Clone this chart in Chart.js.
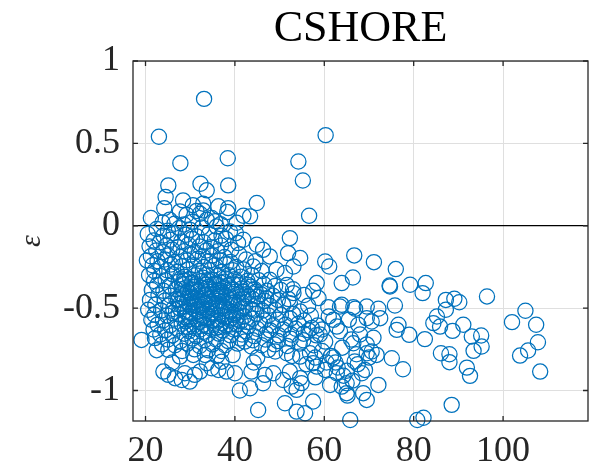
<!DOCTYPE html>
<html>
<head>
<meta charset="utf-8">
<script src="https://cdn.jsdelivr.net/npm/chart.js@4.4.1/dist/chart.umd.min.js"></script>
<style>
html,body{margin:0;padding:0;background:#fff;}
#wrap{width:603px;height:476px;}
</style>
</head>
<body>
<div id="wrap"><canvas id="c" width="603" height="476"></canvas></div>
<script>
const chartTitle = 'CSHORE';
const yAxisLabel = 'ε';
const xTicks = [20, 40, 60, 80, 100];
const yTicks = [-1, -0.5, 0, 0.5, 1];
const xRange = [17.2, 119];
const yRange = [-1.185, 1];

const upperPoints = [
[33.1,0.77],[23.0,0.54],[60.3,0.55],[27.8,0.38],[38.4,0.41],[54.2,0.39],[55.2,0.275],
[25.1,0.245],[32.3,0.255],[33.7,0.215],[38.5,0.245],[44.9,0.138],[24.5,0.174],[28.4,0.154],
[24.2,0.107],[32.9,0.134],[32.9,0.093],[38.5,0.107],[38.3,0.083],[41.9,0.061],[21.2,0.047],
[27.7,0.087],[32.2,0.073],[34.8,0.047],[25.4,0.036],[40.4,0.018],[56.6,0.061],[43.4,0.057],
[29.2,0.067],[31.4,0.09],[33.7,0.036],[35.6,0.028],[23.8,0.02],[26.5,0.012],[28.6,0.008],
[30.5,0.025],[36.8,0.01],[30.6,0.125],[36.3,0.118]
];

const nearZeroPoints = [
[22.5,-0.02],[25.0,-0.03],[27.5,-0.015],[30.0,-0.025],[32.6,-0.01],[35.9,-0.005],[38.9,-0.035],
[20.5,-0.05],[24.0,-0.06],[26.3,-0.045],[29.0,-0.055],[31.5,-0.065],[34.2,-0.05],[37.0,-0.06],[40.2,-0.045],[52.3,-0.075],
[21.8,-0.09],[23.2,-0.1],[25.6,-0.085],[28.0,-0.095],[30.4,-0.08],[33.0,-0.1],[35.5,-0.09],[38.0,-0.08],[41.9,-0.085],
[20.9,-0.125],[24.6,-0.12],[27.2,-0.13],[29.6,-0.115],[32.1,-0.125],[34.6,-0.13],[36.9,-0.12],[40.7,-0.105],[44.9,-0.115],
[22.4,-0.15],[23.9,-0.16],[26.0,-0.145],[28.6,-0.155],[31.0,-0.16],[33.6,-0.15],[36.1,-0.155],[39.2,-0.145],[46.3,-0.146],[51.9,-0.166],
[21.2,-0.185],[25.0,-0.18],[27.8,-0.19],[30.2,-0.175],[32.8,-0.185],[35.0,-0.18],[37.7,-0.19],[41.0,-0.175],[47.8,-0.186]
];

const midPoints = [
[20.3,-0.21],[22.7,-0.215],[24.3,-0.205],[26.6,-0.22],[29.3,-0.21],[31.7,-0.2],[34.2,-0.215],[36.6,-0.21],[39.0,-0.22],[42.5,-0.205],[44.6,-0.215],
[21.6,-0.24],[23.5,-0.25],[25.7,-0.235],[28.2,-0.245],[30.8,-0.24],[33.1,-0.25],[35.6,-0.24],[38.0,-0.235],[40.3,-0.25],[44.1,-0.247],[53.1,-0.247],
[22.0,-0.275],[24.8,-0.27],[27.0,-0.28],[29.5,-0.265],[32.0,-0.275],[34.5,-0.27],[37.0,-0.28],[39.5,-0.27],[42.0,-0.265],[46.0,-0.275],[49.3,-0.267],[51.2,-0.287],
[20.8,-0.3],[23.3,-0.305],[26.1,-0.295],[28.7,-0.31],[31.2,-0.3],[33.7,-0.295],[36.2,-0.305],[38.6,-0.3],[41.3,-0.31],[43.8,-0.3],
[21.9,-0.335],[24.5,-0.33],[27.4,-0.34],[30.0,-0.325],[32.6,-0.335],[35.1,-0.33],[37.6,-0.34],[40.0,-0.325],[42.8,-0.335],[45.3,-0.33],[47.8,-0.328],
[22.6,-0.36],[25.4,-0.365],[28.2,-0.355],[30.9,-0.37],[33.4,-0.36],[35.9,-0.355],[38.4,-0.365],[40.9,-0.36],[43.5,-0.37],[46.5,-0.355],[49.0,-0.365],[51.6,-0.36]
];

const corePoints = [
[21.4,-0.39],[24.0,-0.395],[26.8,-0.385],[29.4,-0.4],[31.8,-0.39],[34.3,-0.385],[36.8,-0.395],[39.3,-0.39],[41.8,-0.4],[44.4,-0.385],[47.2,-0.395],[50.3,-0.39],[53.0,-0.385],[57.5,-0.395],
[22.9,-0.42],[25.6,-0.425],[28.0,-0.415],[30.5,-0.43],[33.0,-0.42],[35.5,-0.415],[38.0,-0.425],[40.5,-0.42],[43.0,-0.43],[45.8,-0.415],[48.5,-0.425],[53.1,-0.409],[55.5,-0.42],
[21.0,-0.45],[24.3,-0.455],[26.9,-0.445],[29.2,-0.46],[31.6,-0.45],[34.0,-0.445],[36.4,-0.455],[38.9,-0.45],[41.4,-0.46],[44.0,-0.445],[46.6,-0.455],[49.6,-0.45],[52.0,-0.445],[58.7,-0.439],
[22.2,-0.48],[25.1,-0.485],[27.7,-0.475],[30.1,-0.49],[32.5,-0.48],[34.9,-0.475],[37.3,-0.485],[39.8,-0.48],[42.3,-0.49],[45.0,-0.475],[47.8,-0.485],[50.8,-0.48],[52.3,-0.47],[56.4,-0.485],
[20.6,-0.51],[23.5,-0.515],[26.2,-0.505],[28.8,-0.52],[31.2,-0.51],[33.6,-0.505],[36.0,-0.515],[38.5,-0.51],[41.0,-0.52],[43.5,-0.505],[46.2,-0.515],[49.0,-0.51],[54.6,-0.521],[60.9,-0.494],
[22.0,-0.54],[24.8,-0.545],[27.4,-0.535],[29.9,-0.55],[32.3,-0.54],[34.7,-0.535],[37.1,-0.545],[39.6,-0.54],[42.1,-0.55],[44.8,-0.535],[47.5,-0.545],[50.3,-0.54],[53.0,-0.535],[57.0,-0.545],
[21.3,-0.57],[23.9,-0.575],[26.5,-0.565],[29.0,-0.58],[31.4,-0.57],[33.8,-0.565],[36.3,-0.575],[38.8,-0.57],[41.3,-0.58],[43.9,-0.565],[46.6,-0.575],[49.5,-0.57],[52.4,-0.565],[55.5,-0.575],[62.0,-0.571],
[22.7,-0.6],[25.5,-0.605],[28.1,-0.595],[30.6,-0.61],[33.0,-0.6],[35.5,-0.595],[38.0,-0.605],[40.5,-0.6],[43.0,-0.61],[45.7,-0.595],[48.5,-0.605],[51.3,-0.6],[54.2,-0.595],[58.5,-0.605],[62.8,-0.612],
[21.8,-0.63],[24.4,-0.635],[27.0,-0.625],[29.7,-0.64],[32.2,-0.63],[34.7,-0.625],[37.2,-0.635],[39.7,-0.63],[42.4,-0.64],[45.0,-0.625],[47.9,-0.635],[50.8,-0.63],[53.6,-0.625],[56.5,-0.635],[59.5,-0.63],
[23.3,-0.66],[26.0,-0.665],[28.7,-0.655],[31.3,-0.67],[33.9,-0.66],[36.4,-0.655],[39.0,-0.665],[41.6,-0.66],[44.3,-0.67],[47.0,-0.655],[49.8,-0.665],[52.6,-0.66],[55.4,-0.655],[58.2,-0.665]
];

const extraCorePoints = [
[27.9,-0.32],[30.4,-0.345],[32.9,-0.315],[35.4,-0.35],[37.9,-0.32],[29.1,-0.375],[31.6,-0.4],[34.1,-0.37],[36.6,-0.41],[39.1,-0.38],
[28.4,-0.435],[30.9,-0.465],[33.4,-0.435],[35.9,-0.47],[38.4,-0.44],[40.9,-0.47],[27.6,-0.5],[30.1,-0.53],[32.6,-0.495],[35.1,-0.525],
[37.6,-0.5],[40.1,-0.53],[28.9,-0.555],[31.9,-0.585],[34.4,-0.555],[36.9,-0.59],[39.4,-0.56],[29.5,-0.615],[32.8,-0.645],[35.8,-0.62],
[31.0,-0.44],[33.2,-0.47],[36.0,-0.43],[34.8,-0.5],[32.0,-0.52],[37.2,-0.46],[29.8,-0.48],[33.5,-0.38],[36.2,-0.39],[30.6,-0.39],
[28.7,-0.33],[31.3,-0.355],[33.9,-0.33],[36.8,-0.345],[39.6,-0.35],[41.5,-0.38],[43.0,-0.36],
[28.1,-0.385],[30.0,-0.41],[32.4,-0.375],[35.0,-0.4],[37.5,-0.375],[40.2,-0.4],[42.6,-0.415],[44.7,-0.4],
[29.6,-0.445],[32.1,-0.455],[34.6,-0.46],[37.0,-0.42],[39.5,-0.465],[42.0,-0.44],[45.0,-0.43],[47.0,-0.44],
[28.6,-0.49],[31.3,-0.485],[33.8,-0.515],[36.3,-0.49],[38.9,-0.52],[41.5,-0.5],[44.0,-0.51],
[30.0,-0.565],[32.8,-0.56],[35.3,-0.575],[37.8,-0.555],[40.3,-0.565],[42.8,-0.585],
[31.0,-0.62],[33.6,-0.61],[36.6,-0.615],[39.0,-0.6],[27.3,-0.45],[26.0,-0.53]
];

const lowerPoints = [
[19.1,-0.693],[22.1,-0.682],[25.0,-0.69],[27.8,-0.7],[30.5,-0.685],[33.2,-0.695],[35.8,-0.69],[38.5,-0.7],[41.2,-0.685],[44.0,-0.695],[46.8,-0.69],[49.6,-0.7],[52.5,-0.685],[55.3,-0.695],[60.2,-0.703],
[23.7,-0.72],[26.6,-0.725],[29.4,-0.715],[32.1,-0.73],[35.0,-0.72],[37.8,-0.725],[40.6,-0.715],[46.0,-0.725],[48.9,-0.72],[51.7,-0.73],[54.5,-0.715],[57.6,-0.725],[66.5,-0.713],
[22.5,-0.755],[25.1,-0.753],[28.2,-0.76],[31.0,-0.75],[34.0,-0.755],[37.0,-0.76],[42.2,-0.703],[43.7,-0.733],[47.5,-0.753],[49.0,-0.763],[51.6,-0.774],[54.6,-0.794],[56.8,-0.774],[59.5,-0.76],
[27.7,-0.794],[30.7,-0.784],[33.3,-0.784],[36.0,-0.79],[39.5,-0.785],[45.0,-0.8],[52.8,-0.79],[58.0,-0.8],[61.5,-0.79],
[26.0,-0.83],[33.7,-0.834],[37.0,-0.825],[44.2,-0.83],[57.5,-0.834],[62.5,-0.83],[66.8,-0.824],
[24.0,-0.885],[25.1,-0.905],[26.6,-0.925],[28.1,-0.936],[28.8,-0.895],[29.9,-0.946],[31.0,-0.905],[32.2,-0.885],[34.8,-0.865],[36.3,-0.875],[38.1,-0.885],[40.0,-0.895],
[43.7,-0.885],[46.7,-0.905],[48.6,-0.895],[50.8,-0.936],[52.3,-0.885],[54.6,-0.925],[54.9,-0.955],[58.3,-0.855],[60.2,-0.875],[62.8,-0.895],[68.4,-0.895],[69.1,-0.875],
[41.1,-1.0],[43.4,-0.986],[46.3,-0.956],[52.7,-0.976],[53.8,-0.996],[45.2,-1.118],[51.2,-1.077],[53.8,-1.128],[55.7,-1.138],[57.5,-1.067],
[61.3,-0.966],[63.9,-0.976],[65.0,-0.956],[65.0,-1.016],[65.2,-1.031],[65.8,-1.179],[68.7,-1.016],[69.5,-1.057],[72.1,-0.966],[80.8,-1.179],[82.2,-1.165],[88.5,-1.087]
];

const rightPoints = [
[54.6,-0.196],[60.2,-0.217],[61.1,-0.247],[66.7,-0.18],[71.1,-0.221],[76.0,-0.263],[58.3,-0.348],[63.9,-0.348],[66.4,-0.314],[74.6,-0.363],
[79.2,-0.358],[82.7,-0.348],[82.0,-0.409],[96.4,-0.429],[87.2,-0.45],[89.1,-0.443],[90.2,-0.464],[87.2,-0.51],[105.0,-0.516],[102.0,-0.585],
[107.4,-0.601],[107.8,-0.707],[105.6,-0.757],[103.8,-0.788],[108.3,-0.885],[63.9,-0.48],[66.9,-0.504],[69.5,-0.49],[72.1,-0.504],[75.8,-0.484],
[72.5,-0.561],[70.6,-0.581],[67.6,-0.601],[76.6,-0.601],[76.2,-0.632],[79.0,-0.662],[82.5,-0.688],[84.4,-0.591],[85.2,-0.551],[85.9,-0.612],
[88.7,-0.638],[91.1,-0.601],[93.0,-0.672],[95.1,-0.666],[95.2,-0.733],[93.4,-0.759],[86.1,-0.774],[88.0,-0.78],[88.0,-0.828],[91.9,-0.861],
[92.6,-0.911],[77.6,-0.871],[75.1,-0.804],[69.5,-0.774],[70.6,-0.763],[71.7,-0.784],[63.5,-0.49],[66.5,-0.494],[69.5,-0.561],[74.7,-0.369],
[57.2,-0.62],[59.0,-0.66],[61.0,-0.55],[63.5,-0.64],[65.5,-0.57],[68.0,-0.66],[66.0,-0.69],[64.0,-0.74],[62.0,-0.8],[60.5,-0.83],
[63.0,-0.86],[65.0,-0.88],[67.2,-0.78],[69.5,-0.72],[71.0,-0.68],[58.0,-0.92],[56.0,-0.84],[70.0,-0.8],[67.5,-0.84],[64.3,-0.91],[66.3,-0.94]
];

const allPoints = [].concat(upperPoints, nearZeroPoints, midPoints, corePoints, extraCorePoints, lowerPoints, rightPoints)
  .map(p => ({x: p[0], y: p[1]}));

const FONT = "'Liberation Serif', 'DejaVu Serif', serif";
const AXIS_COLOR = '#262626';

const boxPlugin = {
  id: 'boxTicks',
  afterDraw(chart) {
    const {ctx, chartArea: a, scales} = chart;
    ctx.save();
    ctx.strokeStyle = AXIS_COLOR;
    ctx.lineWidth = 1.3;
    ctx.strokeRect(a.left, a.top, a.right - a.left, a.bottom - a.top);
    const L = 5;
    ctx.beginPath();
    xTicks.forEach(v => {
      const px = scales.x.getPixelForValue(v);
      ctx.moveTo(px, a.bottom); ctx.lineTo(px, a.bottom - L);
      ctx.moveTo(px, a.top); ctx.lineTo(px, a.top + L);
    });
    yTicks.forEach(v => {
      const py = scales.y.getPixelForValue(v);
      ctx.moveTo(a.left, py); ctx.lineTo(a.left + L, py);
      ctx.moveTo(a.right, py); ctx.lineTo(a.right - L, py);
    });
    ctx.stroke();
    ctx.restore();
  }
};

new Chart(document.getElementById('c'), {
  type: 'scatter',
  data: {
    datasets: [{
      data: allPoints,
      pointStyle: 'circle',
      pointRadius: 7.6,
      pointHoverRadius: 7.6,
      pointBorderWidth: 1.25,
      borderColor: '#0072BD',
      backgroundColor: 'rgba(0,0,0,0)',
      clip: false
    }]
  },
  options: {
    responsive: false,
    animation: false,
    devicePixelRatio: 1,
    layout: { padding: { left: 0, right: 15, top: 0, bottom: 0 } },
    plugins: {
      legend: { display: false },
      tooltip: { enabled: false },
      title: {
        display: true,
        text: chartTitle,
        fullSize: false,
        color: '#000',
        font: { family: FONT, size: 44, weight: 'normal' },
        padding: { top: 3, bottom: 5.2 }
      }
    },
    scales: {
      x: {
        type: 'linear',
        min: xRange[0],
        max: xRange[1],
        afterBuildTicks: s => { s.ticks = xTicks.map(v => ({value: v})); },
        afterFit: s => { s.height = 55; },
        ticks: {
          color: AXIS_COLOR,
          font: { family: FONT, size: 36 },
          padding: 9,
          maxRotation: 0,
          callback: v => String(v)
        },
        grid: { color: '#dfdfdf', lineWidth: 1, drawTicks: false },
        border: { display: false }
      },
      y: {
        type: 'linear',
        min: yRange[0],
        max: yRange[1],
        afterBuildTicks: s => { s.ticks = yTicks.map(v => ({value: v})); },
        afterFit: s => { s.width = 133; },
        ticks: {
          color: AXIS_COLOR,
          font: { family: FONT, size: 36 },
          padding: 13,
          callback: v => String(v)
        },
        grid: {
          color: c => (c.tick && c.tick.value === 0) ? '#000000' : '#dfdfdf',
          lineWidth: c => (c.tick && c.tick.value === 0) ? 1.3 : 1,
          drawTicks: false
        },
        border: { display: false },
        title: {
          display: true,
          text: yAxisLabel,
          color: AXIS_COLOR,
          font: { family: FONT, size: 30, style: 'italic' },
          padding: { top: 14, bottom: 0 }
        }
      }
    }
  },
  plugins: [boxPlugin]
});
</script>
</body>
</html>
